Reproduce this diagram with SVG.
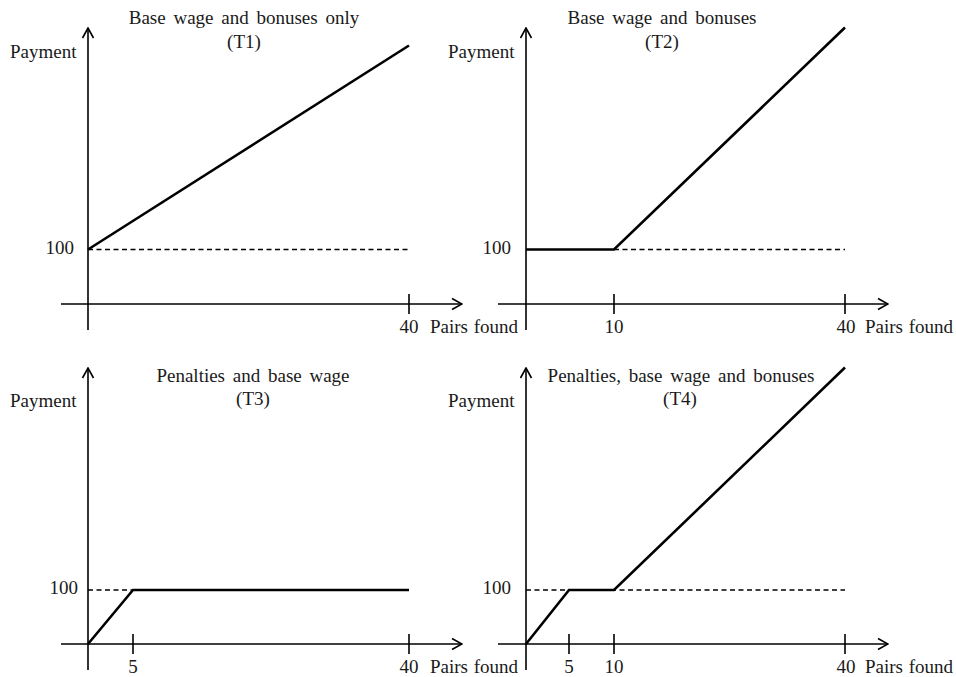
<svg xmlns="http://www.w3.org/2000/svg" width="956" height="677" viewBox="0 0 956 677">
<defs>
<marker id="arr" viewBox="0 0 12 14" refX="11" refY="7" markerWidth="12" markerHeight="14" markerUnits="userSpaceOnUse" orient="auto">
<path d="M1,1.5 L11,7 L1,12.5" fill="none" stroke="#000" stroke-width="1.6"/>
</marker>
</defs>
<style>
text{font-family:"Liberation Serif","DejaVu Serif",serif;font-size:19px;fill:#1a1a1a;word-spacing:3px}
.xl{word-spacing:1px}
.mid{text-anchor:middle}
.end{text-anchor:end}
.axis{stroke:#000;stroke-width:1.6;fill:none}
.tick{stroke:#000;stroke-width:1.6}
.dash{stroke:#000;stroke-width:1.7;stroke-dasharray:5 3.5;fill:none}
.curve{stroke:#000;stroke-width:2.6;fill:none;stroke-linejoin:miter}
</style>
<rect width="956" height="677" fill="#fff"/>

<g id="panel-T1">
<text class="mid" x="244" y="24">Base wage and bonuses only</text>
<text class="mid" x="244" y="48">(T1)</text>
<text x="10" y="58">Payment</text>
<text class="end" x="74" y="254">100</text>
<text class="mid" x="409" y="333">40</text>
<text class="xl" x="430" y="333">Pairs found</text>
<g id="connectors-T1">
<line class="axis" x1="88" y1="330" x2="88" y2="28" marker-end="url(#arr)"/>
<line class="axis" x1="61" y1="304" x2="462" y2="304" marker-end="url(#arr)"/>
<line class="tick" x1="409" y1="294" x2="409" y2="314"/>
<line class="dash" x1="88" y1="249.5" x2="409" y2="249.5"/>
<polyline class="curve" points="88,249.5 409,45.5"/>
</g>
</g>

<g id="panel-T2">
<text class="mid" x="662" y="24">Base wage and bonuses</text>
<text class="mid" x="662" y="48">(T2)</text>
<text x="448" y="58">Payment</text>
<text class="end" x="511" y="254">100</text>
<text class="mid" x="614" y="333">10</text>
<text class="mid" x="846" y="333">40</text>
<text class="xl" x="865" y="333">Pairs found</text>
<g id="connectors-T2">
<line class="axis" x1="526" y1="330" x2="526" y2="28" marker-end="url(#arr)"/>
<line class="axis" x1="498" y1="304" x2="888" y2="304" marker-end="url(#arr)"/>
<line class="tick" x1="614" y1="294" x2="614" y2="314"/>
<line class="tick" x1="845" y1="294" x2="845" y2="314"/>
<line class="dash" x1="614" y1="249.5" x2="845" y2="249.5"/>
<polyline class="curve" points="526,249.5 614,249.5 845,27.5"/>
</g>
</g>

<g id="panel-T3">
<text class="mid" x="253" y="382">Penalties and base wage</text>
<text class="mid" x="253" y="405">(T3)</text>
<text x="10" y="407">Payment</text>
<text class="end" x="78" y="594">100</text>
<text class="mid" x="133" y="673">5</text>
<text class="mid" x="409" y="673">40</text>
<text class="xl" x="430" y="673">Pairs found</text>
<g id="connectors-T3">
<line class="axis" x1="88" y1="670" x2="88" y2="368" marker-end="url(#arr)"/>
<line class="axis" x1="61" y1="644" x2="462" y2="644" marker-end="url(#arr)"/>
<line class="tick" x1="133" y1="634" x2="133" y2="654"/>
<line class="tick" x1="409" y1="634" x2="409" y2="654"/>
<line class="dash" x1="88" y1="590" x2="133" y2="590"/>
<polyline class="curve" points="88,644 133,590 409,590"/>
</g>
</g>

<g id="panel-T4">
<text class="mid" x="681" y="382">Penalties, base wage and bonuses</text>
<text class="mid" x="680" y="405">(T4)</text>
<text x="448" y="407">Payment</text>
<text class="end" x="511" y="594">100</text>
<text class="mid" x="569" y="673">5</text>
<text class="mid" x="614" y="673">10</text>
<text class="mid" x="846" y="673">40</text>
<text class="xl" x="865" y="673">Pairs found</text>
<g id="connectors-T4">
<line class="axis" x1="526" y1="670" x2="526" y2="368" marker-end="url(#arr)"/>
<line class="axis" x1="498" y1="644" x2="888" y2="644" marker-end="url(#arr)"/>
<line class="tick" x1="569" y1="634" x2="569" y2="654"/>
<line class="tick" x1="614" y1="634" x2="614" y2="654"/>
<line class="tick" x1="845" y1="634" x2="845" y2="654"/>
<line class="dash" x1="526" y1="590" x2="845" y2="590"/>
<polyline class="curve" points="526,644 569,590 614,590 845,367.5"/>
</g>
</g>
</svg>
